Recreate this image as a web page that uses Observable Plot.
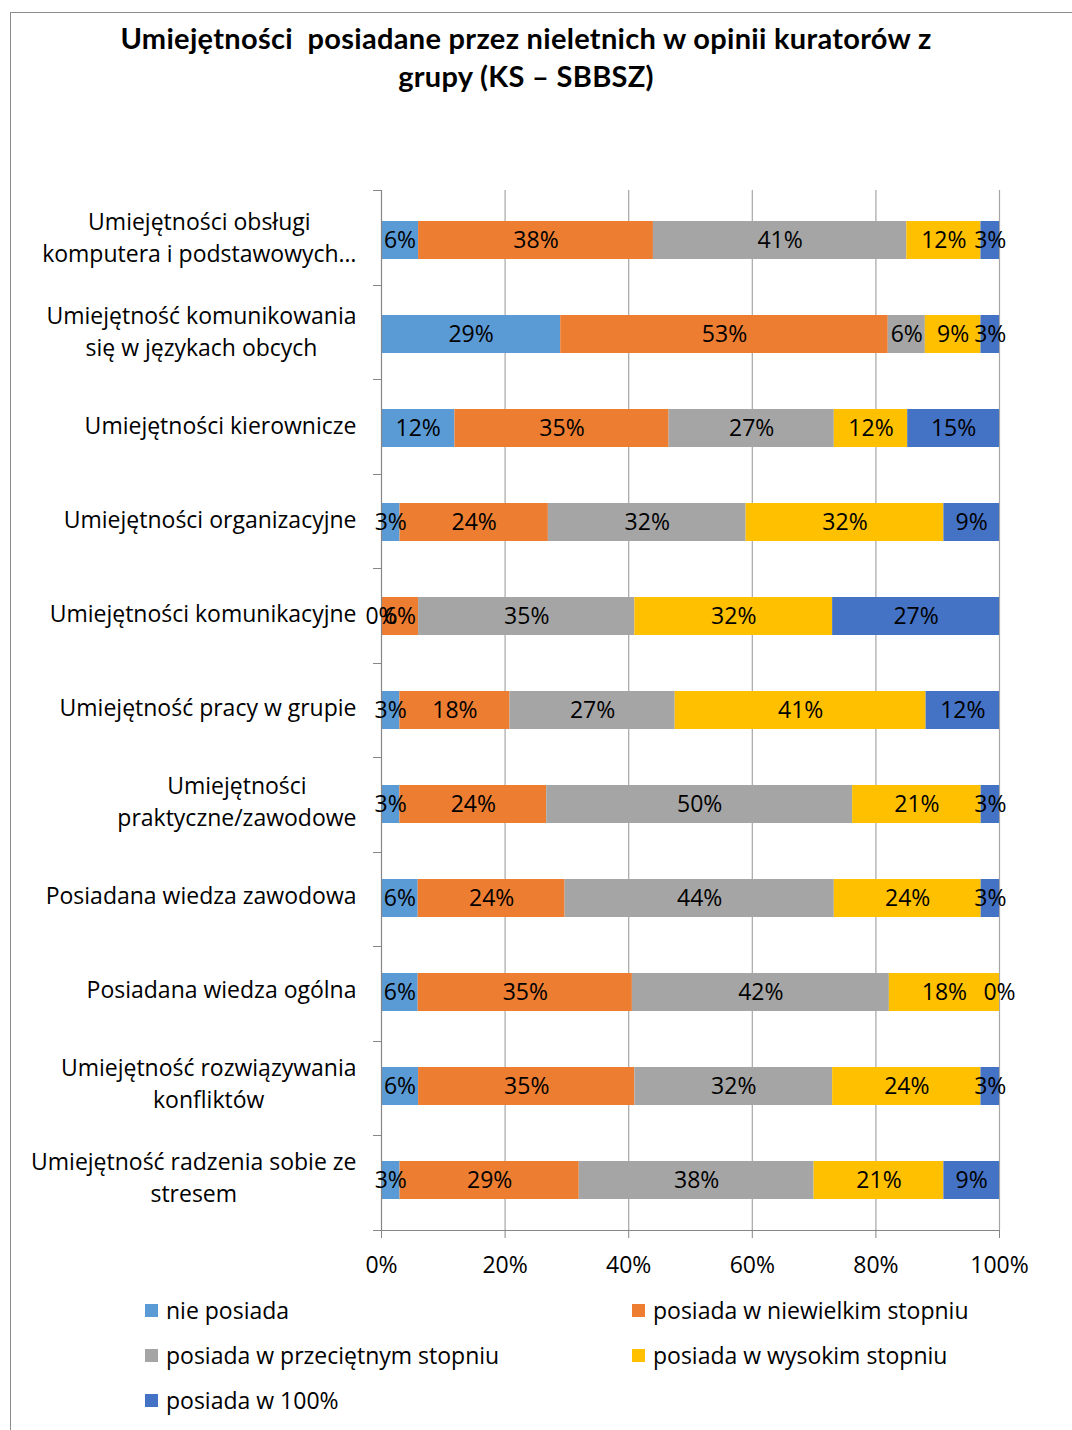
<!DOCTYPE html>
<html>
<head>
<meta charset="utf-8">
<script src="https://cdn.jsdelivr.net/npm/d3@7"></script>
<script src="https://cdn.jsdelivr.net/npm/@observablehq/plot@0.6"></script>
<style>
  html, body { margin: 0; padding: 0; background: #fff; }
  body { width: 1072px; height: 1430px; position: relative; overflow: hidden; font-family: "Open Sans", sans-serif; color: #000; }
  #frame { position: absolute; left: 10px; top: 12px; width: 1200px; height: 1600px; border: 1px solid #8c8c8c; box-sizing: border-box; }
  #title { position: absolute; left: 0; top: 19px; width: 1052px; text-align: center; font-family: Lato, sans-serif; font-weight: bold; font-size: 29px; letter-spacing: 0.3px; line-height: 38px; }
  #chart { position: absolute; left: 0; top: 150px; }
  #legend { position: absolute; left: 0; top: 1288px; width: 1072px; }
  .item { position: absolute; display: flex; align-items: center; font-size: 23px; height: 44px; white-space: nowrap; }
  .sw { width: 13px; height: 13px; margin-right: 8px; }
</style>
</head>
<body>
<div id="frame"></div>
<div id="title">Umiejętności&nbsp; posiadane przez nieletnich w opinii kuratorów z<br>grupy (KS – SBBSZ)</div>
<div id="chart"></div>
<div id="legend"></div>
<script>
const categories = [
  "Umiejętności obsługi\nkomputera i podstawowych…",
  "Umiejętność komunikowania\nsię w językach obcych",
  "Umiejętności kierownicze",
  "Umiejętności organizacyjne",
  "Umiejętności komunikacyjne",
  "Umiejętność pracy w grupie",
  "Umiejętności\npraktyczne/zawodowe",
  "Posiadana wiedza zawodowa",
  "Posiadana wiedza ogólna",
  "Umiejętność rozwiązywania\nkonfliktów",
  "Umiejętność radzenia sobie ze\nstresem"
];
const series = [
  "nie posiada",
  "posiada w niewielkim stopniu",
  "posiada w przeciętnym stopniu",
  "posiada w wysokim stopniu",
  "posiada w 100%"
];
const colors = ["#5B9BD5", "#ED7D31", "#A5A5A5", "#FFC000", "#4472C4"];
const niePosiada   = [6, 29, 12, 3, 0, 3, 3, 6, 6, 6, 3];
const niewielkim   = [38, 53, 35, 24, 6, 18, 24, 24, 35, 35, 29];
const przecietnym  = [41, 6, 27, 32, 35, 27, 50, 44, 42, 32, 38];
const wysokim      = [12, 9, 12, 32, 32, 41, 21, 24, 18, 24, 21];
const w100         = [3, 3, 15, 9, 27, 12, 3, 3, 0, 3, 9];
const xTicks = [0, 0.2, 0.4, 0.6, 0.8, 1];

const seriesValues = [niePosiada, niewielkim, przecietnym, wysokim, w100];
const data = [];
categories.forEach((c, i) => {
  series.forEach((s, j) => data.push({category: c, series: s, value: seriesValues[j][i]}));
});

const axisColor = "#868686";
const gridColor = "#a6a6a6";

function frameMarks(index, scales, values, dimensions) {
  const {marginLeft, marginTop, marginRight, marginBottom, width, height} = dimensions;
  const n = categories.length;
  const top = marginTop, bottom = height - marginBottom;
  const step = (bottom - top) / n;
  const g = d3.create("svg:g");
  for (let i = 0; i <= n; i++) {
    const yy = Math.round(top + i * step) + 0.5;
    g.append("line").attr("x1", marginLeft - 8).attr("x2", marginLeft).attr("y1", yy).attr("y2", yy).attr("stroke", axisColor);
  }
  g.append("line").attr("x1", marginLeft - 8).attr("x2", width - marginRight).attr("y1", bottom + 0.5).attr("y2", bottom + 0.5).attr("stroke", axisColor);
  return g.node();
}

const chart = Plot.plot({
  width: 1072,
  height: 1140,
  marginLeft: 381,
  marginRight: 73,
  marginTop: 40,
  marginBottom: 60,
  style: {fontFamily: "'Open Sans', sans-serif", background: "transparent"},
  x: {domain: [0, 1], axis: null},
  y: {domain: categories, paddingInner: 0.6, paddingOuter: 0.3, axis: null},
  color: {domain: series, range: colors},
  marks: [
    Plot.ruleX(xTicks.slice(1), {stroke: gridColor, strokeWidth: 1.2}),
    Plot.barX(data, Plot.stackX({offset: "normalize", x: "value", y: "category", fill: "series"})),
    Plot.ruleX([0], {stroke: axisColor, strokeWidth: 1.2}),
    frameMarks,
    Plot.axisX({ticks: xTicks, tickFormat: d3.format(".0%"), tickSize: 8, tickPadding: 18, fontSize: 23, stroke: axisColor, color: "#000", label: null}),
    Plot.text(data, Plot.stackX({offset: "normalize", x: "value", y: "category", z: "series", text: d => d.value + "%", fontSize: 23, fill: "#000"})),
    Plot.text(categories, {y: d => d, frameAnchor: "left", dx: -25, dy: -5, textAnchor: "end", fontSize: 23, lineHeight: 1.43, fill: "#000", ariaDescription: "ylabels"})
  ]
});
document.getElementById("chart").appendChild(chart);

// center multi-line category labels within their right-aligned block
const labelTexts = chart.querySelectorAll('g[aria-description="ylabels"] text');
labelTexts.forEach(t => {
  const spans = t.querySelectorAll("tspan");
  if (spans.length > 1) {
    let w = 0;
    spans.forEach(s => { w = Math.max(w, s.getComputedTextLength()); });
    t.setAttribute("text-anchor", "middle");
    spans.forEach(s => s.setAttribute("x", -w / 2));
  }
});

const legend = document.getElementById("legend");
const cols = [145, 632];
series.forEach((s, i) => {
  const item = document.createElement("div");
  item.className = "item";
  item.style.left = cols[i % 2] + "px";
  item.style.top = (Math.floor(i / 2) * 45) + "px";
  item.innerHTML = `<span class="sw" style="background:${colors[i]}"></span><span>${s}</span>`;
  legend.appendChild(item);
});
</script>
</body>
</html>
